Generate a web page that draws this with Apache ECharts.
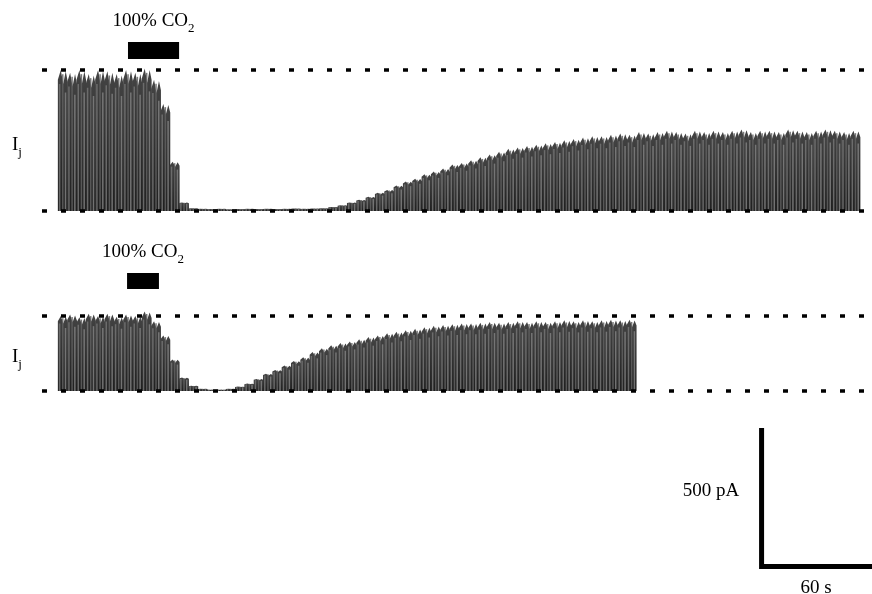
<!DOCTYPE html>
<html>
<head>
<meta charset="utf-8">
<title>Ij CO2</title>
<script src="https://cdn.jsdelivr.net/npm/echarts@6/dist/echarts.min.js"></script>
<style>
  html, body { margin: 0; padding: 0; background: #fff; }
  #chart { width: 872px; height: 594px; }
</style>
</head>
<body>
<div id="chart"></div>
<script>
// envelope of the junctional current pulses, sampled every 5 s (pA)
const STEP = 5;
const topTrace = [
  515, 505, 515, 500, 515, 510, 500, 515, 505, 520,
  479, 391, 180, 31, 10,
  8, 7, 8, 6, 7, 8, 7, 8, 7, 8, 9, 8, 9,
  10, 15, 21, 31, 41, 52, 67, 77, 93, 108, 118, 134, 144, 155, 170, 175,
  185, 196, 206, 216, 227, 232, 237, 242, 247, 252, 258, 263, 268, 273, 273,
  278, 283, 278, 288, 283, 288, 293, 288, 283, 293, 288, 293, 288, 293,
  298, 288, 293, 293, 288, 298, 293, 288, 293, 298, 293, 288, 293
];
const bottomTrace = [
  274, 279, 269, 282, 274, 282, 271, 279, 274, 290,
  255, 203, 115, 49, 19, 8, 5, 5, 8,
  16, 27, 44, 63, 77, 93, 110, 123, 142, 156, 167, 175, 181, 189, 197,
  203, 211, 216, 222, 227, 233, 238, 241, 244, 247,
  247, 249, 252, 249, 252, 255, 252, 255, 252, 255, 258, 255, 258, 255,
  258, 260, 258, 260
];
// reference levels (dotted lines) and CO2 application (s)
const topLevel = 515;
const bottomLevel = 274;
const topCO2 = [35.1, 62.5];
const bottomCO2 = [34.6, 51.7];
// scale bar: 500 pA, 60 s
const scaleBar = [[374.8, 500], [374.8, 0], [434.8, 0]];

const X_MIN = -11, X_MAX = 434;
const serif = 'Liberation Serif';

function toPoints(arr) {
  return arr.map((v, i) => [i * STEP, v]);
}

// each sample drawn as a bundle of pulses: dark body, jagged top, light streaks
function renderTrace(params, api) {
  const t = api.value(0), v = api.value(1);
  const a = api.coord([t - STEP / 2, 0]);
  const b = api.coord([t + STEP / 2, v]);
  const base = a[1], x0 = a[0], w = b[0] - a[0] + 0.5;
  const y = f => base - (base - b[1]) * f;
  const streaks = [[0.18, 0.9, '#747474'], [0.5, 0.97, '#606060'], [0.78, 0.84, '#808080']];
  return {
    type: 'group',
    children: [
      {
        type: 'polygon',
        shape: {
          points: [
            [x0, base], [x0, y(0.93)], [x0 + w * 0.3, y(1)], [x0 + w * 0.55, y(0.9)],
            [x0 + w * 0.8, y(0.99)], [x0 + w, y(0.92)], [x0 + w, base]
          ]
        },
        style: {
          fill: new echarts.graphic.LinearGradient(0, 0, 0, 1, [
            { offset: 0, color: '#444444' },
            { offset: 1, color: '#1f1f1f' }
          ])
        }
      }
    ].concat(streaks.map(s => ({
      type: 'rect',
      shape: { x: x0 + w * s[0] - 0.75, y: y(s[1]), width: 1.5, height: base - y(s[1]) },
      style: { fill: s[2], opacity: 0.85 }
    })))
  };
}

const dotted = { color: '#000', width: 3.5, type: [5, 14] };
const subRich = {
  n: { fontFamily: serif, fontSize: 19, color: '#000', lineHeight: 21 },
  s: { fontFamily: serif, fontSize: 13, color: '#000', lineHeight: 13, verticalAlign: 'bottom', padding: [0, 0, -3, 0] }
};

function refSeries(idx, level, co2, barLo, barHi) {
  return {
    type: 'line',
    xAxisIndex: idx,
    yAxisIndex: idx,
    data: [],
    silent: true,
    markLine: {
      symbol: 'none',
      silent: true,
      label: { show: false },
      lineStyle: dotted,
      data: [{ yAxis: 0 }, { yAxis: level }]
    },
    markArea: {
      silent: true,
      itemStyle: { color: '#000', opacity: 1 },
      label: {
        show: true,
        position: 'top',
        distance: 10,
        formatter: '{n|100% CO}{s|2}',
        rich: subRich
      },
      data: [[{ xAxis: co2[0], yAxis: barLo }, { xAxis: co2[1], yAxis: barHi }]]
    }
  };
}

const chart = echarts.init(document.getElementById('chart'));

const option = {
  backgroundColor: '#fff',
  animation: false,
  grid: [
    { left: 42, right: 0, top: 42, height: 169 },
    { left: 42, right: 0, top: 273, height: 118 },
    { left: 42, right: 0, top: 428, height: 138.5 }
  ],
  xAxis: [0, 1, 2].map(i => ({ type: 'value', gridIndex: i, min: X_MIN, max: X_MAX, show: false })),
  yAxis: [
    { type: 'value', gridIndex: 0, min: 0, max: 617, show: false },
    { type: 'value', gridIndex: 1, min: 0, max: 431, show: false },
    { type: 'value', gridIndex: 2, min: 0, max: 500, show: false }
  ],
  series: [
    {
      type: 'custom',
      xAxisIndex: 0,
      yAxisIndex: 0,
      renderItem: renderTrace,
      data: toPoints(topTrace)
    },
    {
      type: 'custom',
      xAxisIndex: 1,
      yAxisIndex: 1,
      renderItem: renderTrace,
      data: toPoints(bottomTrace)
    },
    refSeries(0, topLevel, topCO2, 555, 617),
    refSeries(1, bottomLevel, bottomCO2, 372.5, 431),
    {
      type: 'line',
      xAxisIndex: 2,
      yAxisIndex: 2,
      data: scaleBar,
      symbol: 'none',
      clip: false,
      silent: true,
      lineStyle: { color: '#000', width: 5, cap: 'butt', join: 'miter' }
    }
  ],
  graphic: [
    {
      type: 'text', left: 12, top: 136,
      style: { text: '{n|I}{s|j}', rich: subRich }
    },
    {
      type: 'text', left: 12, top: 348,
      style: { text: '{n|I}{s|j}', rich: subRich }
    },
    {
      type: 'text', x: 711, y: 491,
      style: { text: '500 pA', font: '19px "Liberation Serif"', fill: '#000', align: 'center', verticalAlign: 'middle' }
    },
    {
      type: 'text', x: 816, y: 588,
      style: { text: '60 s', font: '19px "Liberation Serif"', fill: '#000', align: 'center', verticalAlign: 'middle' }
    }
  ]
};

chart.setOption(option);
</script>
</body>
</html>
